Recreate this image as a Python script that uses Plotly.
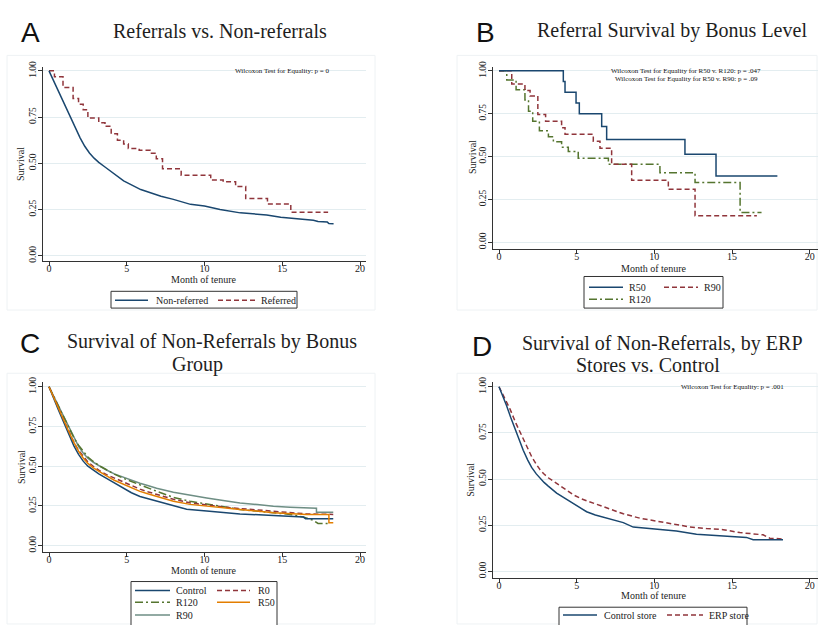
import plotly.graph_objects as go

# ---------------- data ----------------
# Panel A
a_nonref_x = [0, 0.3, 0.7, 1.0, 1.35, 1.7, 2.0, 2.3, 2.6, 2.9, 3.2, 3.6, 4.0, 4.8, 5.9, 7.2, 8.0, 9.1, 10.0, 11.0, 12.3, 14.0, 14.9, 16.2, 17.0, 17.3, 17.9, 18.0, 18.3]
a_nonref_y = [1, 0.945, 0.87, 0.815, 0.75, 0.69, 0.638, 0.592, 0.556, 0.528, 0.505, 0.48, 0.455, 0.405, 0.358, 0.322, 0.305, 0.278, 0.269, 0.25, 0.232, 0.221, 0.208, 0.198, 0.192, 0.185, 0.182, 0.174, 0.173]
a_ref_x = [0, 0.35, 0.9, 1.55, 1.9, 2.2, 2.5, 3.2, 3.6, 4.0, 4.4, 4.8, 5.1, 5.8, 6.5, 6.9, 7.3, 8.5, 10.4, 11.2, 12.0, 12.65, 14.05, 15.55, 17.95]
a_ref_y = [1, 0.968, 0.91, 0.85, 0.82, 0.79, 0.745, 0.72, 0.70, 0.66, 0.625, 0.605, 0.58, 0.57, 0.555, 0.525, 0.47, 0.435, 0.41, 0.40, 0.375, 0.31, 0.28, 0.235, 0.235]

# Panel B
b_r50_x = [0, 4.14, 4.25, 4.96, 5.17, 6.61, 6.93, 11.97, 13.97, 17.92]
b_r50_y = [1, 0.9375, 0.875, 0.8125, 0.75, 0.675, 0.60, 0.514, 0.386, 0.386]
b_r90_x = [0, 0.82, 1.67, 2.0, 2.5, 3.0, 4.03, 4.25, 6.07, 6.5, 7.25, 8.54, 10.9, 12.62, 16.6]
b_r90_y = [1, 0.923, 0.885, 0.854, 0.745, 0.706, 0.668, 0.63, 0.59, 0.549, 0.455, 0.361, 0.309, 0.155, 0.155]
b_r120_x = [0, 0.5, 1.1, 1.67, 1.9, 2.17, 2.6, 3.18, 3.5, 4.03, 4.46, 5.1, 7.04, 10.36, 12.62, 15.52, 16.9]
b_r120_y = [1, 0.946, 0.89, 0.83, 0.765, 0.706, 0.65, 0.616, 0.587, 0.555, 0.53, 0.49, 0.455, 0.405, 0.348, 0.174, 0.174]

# Panel C
c_control_x = [0, 0.3, 0.6, 1.0, 1.3, 1.6, 1.9, 2.2, 2.5, 2.85, 3.2, 3.7, 4.2, 4.78, 5.3, 5.85, 6.4, 6.92, 7.5, 8.0, 8.85, 10.14, 11.2, 12.28, 14.43, 16.36, 16.5, 18.28]
c_control_y = [1, 0.925, 0.855, 0.765, 0.69, 0.628, 0.575, 0.532, 0.5, 0.474, 0.452, 0.424, 0.395, 0.362, 0.333, 0.31, 0.295, 0.28, 0.265, 0.25, 0.23, 0.218, 0.209, 0.2, 0.19, 0.18, 0.17, 0.17]
c_r0_x = [0, 0.3, 0.6, 1.0, 1.3, 1.6, 1.9, 2.2, 2.5, 2.85, 3.2, 3.7, 4.2, 4.78, 5.3, 5.85, 6.4, 6.92, 8.0, 9.07, 10.14, 11.2, 12.28, 14.43, 15.5, 16.57, 18.28]
c_r0_y = [1, 0.935, 0.87, 0.785, 0.715, 0.65, 0.6, 0.56, 0.527, 0.5, 0.475, 0.447, 0.425, 0.402, 0.378, 0.356, 0.338, 0.322, 0.292, 0.27, 0.255, 0.244, 0.234, 0.217, 0.207, 0.2, 0.197]
c_r120_x = [0, 0.3, 0.6, 1.0, 1.3, 1.6, 1.9, 2.2, 2.5, 2.85, 3.2, 3.7, 4.2, 4.78, 5.3, 5.85, 6.4, 6.92, 8.0, 9.07, 10.14, 11.2, 12.28, 14.43, 15.5, 16.36, 17.0, 17.3, 18.0]
c_r120_y = [1, 0.94, 0.88, 0.8, 0.735, 0.68, 0.632, 0.592, 0.558, 0.53, 0.505, 0.478, 0.45, 0.424, 0.402, 0.383, 0.362, 0.342, 0.304, 0.28, 0.262, 0.245, 0.228, 0.207, 0.197, 0.18, 0.16, 0.14, 0.14]
c_r50_x = [0, 0.3, 0.6, 1.0, 1.3, 1.6, 1.9, 2.2, 2.5, 2.85, 3.2, 3.7, 4.2, 4.78, 5.3, 5.85, 6.4, 6.92, 8.0, 9.07, 10.14, 11.2, 12.28, 14.43, 15.5, 16.57, 18.0, 18.0, 18.28]
c_r50_y = [1, 0.932, 0.865, 0.78, 0.712, 0.65, 0.595, 0.552, 0.518, 0.49, 0.467, 0.439, 0.412, 0.387, 0.363, 0.342, 0.325, 0.311, 0.28, 0.26, 0.248, 0.238, 0.228, 0.207, 0.2, 0.197, 0.197, 0.145, 0.145]
c_r90_x = [0, 0.3, 0.6, 1.0, 1.3, 1.6, 1.9, 2.2, 2.5, 2.85, 3.2, 3.7, 4.2, 4.78, 5.3, 5.85, 6.4, 6.92, 8.0, 9.07, 10.14, 11.2, 12.28, 13.4, 14.43, 15.5, 16.57, 17.2, 17.2, 18.28]
c_r90_y = [1, 0.94, 0.88, 0.8, 0.735, 0.678, 0.625, 0.583, 0.55, 0.525, 0.503, 0.476, 0.452, 0.43, 0.41, 0.393, 0.377, 0.362, 0.337, 0.317, 0.30, 0.284, 0.269, 0.259, 0.248, 0.242, 0.238, 0.236, 0.211, 0.211]

# Panel D
d_control_x = [0, 0.25, 0.49, 0.75, 1.03, 1.3, 1.56, 1.85, 2.1, 2.4, 2.64, 2.9, 3.17, 3.71, 4.2, 4.78, 5.2, 5.64, 6.2, 6.92, 7.5, 8.0, 8.64, 9.3, 10.14, 11.42, 12.71, 14.43, 15.93, 16.36, 18.28]
d_control_y = [1, 0.95, 0.897, 0.835, 0.772, 0.71, 0.656, 0.603, 0.563, 0.528, 0.505, 0.482, 0.462, 0.424, 0.398, 0.368, 0.345, 0.323, 0.305, 0.29, 0.278, 0.264, 0.24, 0.235, 0.228, 0.219, 0.201, 0.193, 0.184, 0.171, 0.171]
d_erp_x = [0, 0.35, 0.71, 1.1, 1.56, 1.85, 2.1, 2.4, 2.64, 2.9, 3.17, 3.71, 4.2, 4.78, 5.3, 5.85, 6.4, 6.92, 8.0, 9.07, 10.14, 11.21, 12.28, 13.35, 14.43, 15.5, 16.57, 17.0, 17.43, 18.28]
d_erp_y = [1, 0.94, 0.879, 0.8, 0.718, 0.665, 0.622, 0.58, 0.551, 0.527, 0.507, 0.477, 0.447, 0.415, 0.393, 0.376, 0.36, 0.344, 0.312, 0.288, 0.273, 0.255, 0.241, 0.232, 0.226, 0.21, 0.201, 0.198, 0.18, 0.175]

x_ticks = [0, 5, 10, 15, 20]
y_ticks = [0, 0.25, 0.5, 0.75, 1.0]
y_ticktext = ["0.00", "0.25", "0.50", "0.75", "1.00"]

titles = {"A": "Referrals vs. Non-referrals",
          "B": "Referral Survival by Bonus Level",
          "C": ["Survival of Non-Referrals by Bonus", "Group"],
          "D": ["Survival of Non-Referrals, by ERP", "Stores vs. Control"]}
notes = {"A": ["Wilcoxon Test for Equality: p = 0"],
         "B": ["Wilcoxon Test for Equality for R50 v. R120: p = .047",
               "Wilcoxon Test for Equality for R50 v. R90: p = .09"],
         "D": ["Wilcoxon Test for Equality: p = .001"]}
legend_names = {"A": ["Non-referred", "Referred"],
                "B": ["R50", "R90", "R120"],
                "C": ["Control", "R0", "R120", "R50", "R90"],
                "D": ["Control store", "ERP store"]}

# ---------------- styles ----------------
W, H = 818, 625
NAVY, MAROON, GREEN, ORANGE, TEAL = "#1a476f", "#90353b", "#55752f", "#e37e00", "#6e8e84"
SERIF = "Liberation Serif"
DASH = "5px,3px"
DASHDOT = "8px,3px,2px,3px"
LW = 1.5


def PX(x):
    return x / W


def PY(y):
    return 1 - y / H


fig = go.Figure()

# axes geometry in pixels
geom = {
    1: dict(l=43, r=366, t=62, b=258, x0=49, x20=360, y1=65.7, y0=253.0),
    2: dict(l=493, r=818, t=62, b=246, x0=499, x20=809.7, y1=65.7, y0=239.3),
    3: dict(l=43, r=366, t=381, b=553, x0=49, x20=360, y1=385.7, y0=546.7),
    4: dict(l=493, r=818, t=381, b=579, x0=499, x20=809.7, y1=385.7, y0=572.7),
}

layout_axes = {}
for i, g in geom.items():
    sx = (g["x20"] - g["x0"]) / 20.0
    sy = (g["y0"] - g["y1"])
    xr = [(g["l"] - g["x0"]) / sx, (g["r"] - g["x0"]) / sx]
    yr = [-(g["b"] - g["y0"]) / sy, 1 + (g["y1"] - g["t"]) / sy]
    suf = "" if i == 1 else str(i)
    layout_axes["xaxis" + suf] = dict(
        domain=[PX(g["l"]), PX(g["r"])], range=xr, anchor="y" + suf,
        tickvals=x_ticks, ticks="outside", ticklen=4, tickcolor="#333",
        showline=True, linecolor="#333", linewidth=1, showgrid=False, zeroline=False,
        ticklabelstandoff=-6,
        tickfont=dict(family=SERIF, size=10, color="#222"), fixedrange=True)
    layout_axes["yaxis" + suf] = dict(
        domain=[PY(g["b"]), PY(g["t"])], range=yr, anchor="x" + suf,
        tickvals=y_ticks, ticktext=y_ticktext, tickangle=-90,
        ticks="outside", ticklen=4, tickcolor="#333",
        showline=True, linecolor="#333", linewidth=1,
        showgrid=True, gridcolor="#e3edf0", gridwidth=1, zeroline=False,
        ticklabelstandoff=-2,
        tickfont=dict(family=SERIF, size=9.5, color="#222"), fixedrange=True)


def add(x, y, ax, color, dash="solid", shape="linear"):
    suf = "" if ax == 1 else str(ax)
    fig.add_trace(go.Scatter(x=x, y=y, mode="lines", xaxis="x" + suf, yaxis="y" + suf,
                             line=dict(color=color, width=LW, dash=dash, shape=shape),
                             showlegend=False, hoverinfo="skip"))


# Panel A
add(a_ref_x, a_ref_y, 1, MAROON, DASH, "hv")
add(a_nonref_x, a_nonref_y, 1, NAVY)
# Panel B
add(b_r120_x, b_r120_y, 2, GREEN, DASHDOT, "hv")
add(b_r90_x, b_r90_y, 2, MAROON, DASH, "hv")
add(b_r50_x, b_r50_y, 2, NAVY, "solid", "hv")
# Panel C
add(c_r90_x, c_r90_y, 3, TEAL)
add(c_r120_x, c_r120_y, 3, GREEN, DASHDOT)
add(c_r0_x, c_r0_y, 3, MAROON, DASH)
add(c_control_x, c_control_y, 3, NAVY)
add(c_r50_x, c_r50_y, 3, ORANGE)
# Panel D
add(d_erp_x, d_erp_y, 4, MAROON, DASH)
add(d_control_x, d_control_y, 4, NAVY)

ann = []
shapes = []


def text(x, y, s, size=10, family=SERIF, color="#222", angle=0, xanchor="center"):
    ann.append(dict(x=PX(x), y=PY(y), xref="paper", yref="paper", text=s, showarrow=False,
                    xanchor=xanchor, yanchor="middle", textangle=angle,
                    font=dict(family=family, size=size, color=color)))


# faint panel frames
for (x0, y0, x1, y1) in [(7, 50, 375, 308), (457, 50, 817, 308), (7, 372, 375, 626), (457, 372, 817, 626)]:
    shapes.append(dict(type="rect", xref="paper", yref="paper", x0=PX(x0), x1=PX(x1), y0=PY(y1), y1=PY(y0),
                       line=dict(color="#eef2f4", width=1), layer="below"))

# panel letters
for L, (x, y) in {"A": (30.5, 27), "B": (485, 27), "C": (30, 342), "D": (482, 345)}.items():
    text(x, y, L, size=28, family="Liberation Sans", color="#111")

# titles
TS = 20
text(220.5, 25, titles["A"], size=TS, color="#1e1e1e")
text(672, 25, titles["B"], size=TS, color="#1e1e1e")
text(212, 340, titles["C"][0], size=TS, color="#1e1e1e")
text(197, 363, titles["C"][1], size=TS, color="#1e1e1e")
text(662, 342, titles["D"][0], size=TS, color="#1e1e1e")
text(648, 364, titles["D"][1], size=TS, color="#1e1e1e")

# notes
text(282, 66, notes["A"][0], size=7, color="#111")
text(686, 66, notes["B"][0], size=7, color="#111")
text(686, 74, notes["B"][1], size=7, color="#111")
text(732, 386, notes["D"][0], size=7, color="#111")

# axis titles
for (sx, sy, mx, my) in [(21, 160, 204, 277), (472, 153, 654, 266), (21, 467, 204, 572), (471, 480, 654, 597)]:
    text(sx, sy, "Survival", size=10, angle=-90)
    text(mx, my, "Month of tenure", size=10)


def legend_box(x0, y0, x1, y1):
    shapes.append(dict(type="rect", xref="paper", yref="paper", x0=PX(x0), x1=PX(x1), y0=PY(y1), y1=PY(y0),
                       line=dict(color="#333", width=1), fillcolor="white"))


def legend_item(lx0, lx1, y, color, dash, label, tx):
    shapes.append(dict(type="line", xref="paper", yref="paper", x0=PX(lx0), x1=PX(lx1), y0=PY(y), y1=PY(y),
                       line=dict(color=color, width=LW, dash=dash)))
    text(tx, y, label, size=10, xanchor="left")


# legend A
nA = legend_names["A"]
legend_box(111, 289, 297, 306)
legend_item(115, 148, 298, NAVY, "solid", nA[0], 154)
legend_item(218, 255, 298, MAROON, DASH, nA[1], 259)
# legend B
nB = legend_names["B"]
legend_box(584, 274, 723, 306)
legend_item(589, 623, 285, NAVY, "solid", nB[0], 627)
legend_item(664, 698, 285, MAROON, DASH, nB[1], 702)
legend_item(589, 623, 297, GREEN, DASHDOT, nB[2], 627)
# legend C
nC = legend_names["C"]
legend_box(131, 583, 277, 640)
legend_item(135, 170, 592, NAVY, "solid", nC[0], 174)
legend_item(217, 250, 592, MAROON, DASH, nC[1], 256)
legend_item(135, 170, 604, GREEN, DASHDOT, nC[2], 174)
legend_item(217, 250, 604, ORANGE, "solid", nC[3], 256)
legend_item(135, 170, 617, TEAL, "solid", nC[4], 174)
# legend D
nD = legend_names["D"]
legend_box(559, 609, 747, 640)
legend_item(563, 597, 617, NAVY, "solid", nD[0], 602)
legend_item(667, 703, 617, MAROON, DASH, nD[1], 707)

fig.update_layout(width=W, height=H, margin=dict(l=0, r=0, t=0, b=0), autosize=False,
                  paper_bgcolor="white", plot_bgcolor="white", showlegend=False,
                  annotations=ann, shapes=shapes, **layout_axes)

fig.write_html("out.html")
